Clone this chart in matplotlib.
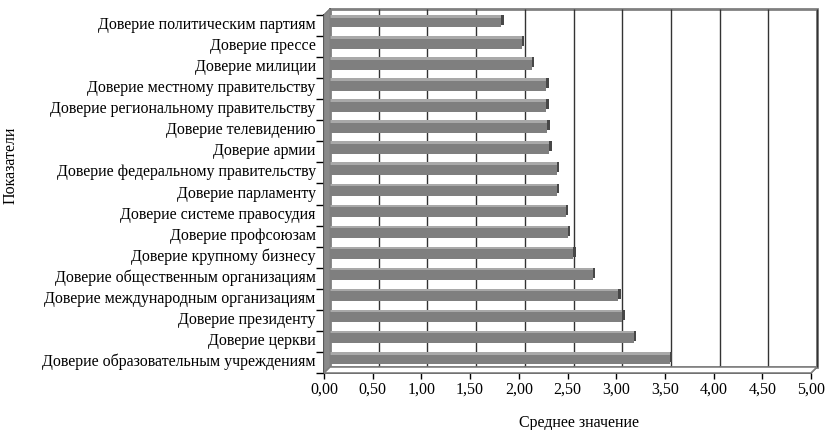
import numpy as np
import matplotlib
matplotlib.use("Agg")
import matplotlib.pyplot as plt
from matplotlib.patches import Polygon
from matplotlib.transforms import ScaledTranslation, IdentityTransform

plt.rcParams["font.family"] = ["Liberation Serif", "DejaVu Serif"]

# data, top to bottom as in the chart
categories = [
    "Доверие политическим партиям",
    "Доверие прессе",
    "Доверие милиции",
    "Доверие местному правительству",
    "Доверие региональному правительству",
    "Доверие телевидению",
    "Доверие армии",
    "Доверие федеральному правительству",
    "Доверие парламенту",
    "Доверие системе правосудия",
    "Доверие профсоюзам",
    "Доверие крупному бизнесу",
    "Доверие общественным организациям",
    "Доверие международным организациям",
    "Доверие президенту",
    "Доверие церкви",
    "Доверие образовательным учреждениям",
]
values = [1.80, 2.01, 2.11, 2.26, 2.26, 2.27, 2.29, 2.37, 2.37, 2.46,
          2.48, 2.54, 2.74, 3.00, 3.04, 3.16, 3.53]
x_ticks = [0, 0.5, 1, 1.5, 2, 2.5, 3, 3.5, 4, 4.5, 5]
x_tick_labels = [f"{t:.2f}".replace(".", ",") for t in x_ticks]

DPI = 100
W, H = 827, 430
FS = 11.5
fig = plt.figure(figsize=(W / DPI, H / DPI), dpi=DPI)
ax = fig.add_axes([324 / W, 57 / H, 487 / W, 358 / H])

y = np.arange(len(categories))
n = len(categories)
ax.set_xlim(0, 5)
ax.set_ylim(n - 0.5, -0.5)
for s in ax.spines.values():
    s.set_visible(False)
ax.patch.set_visible(False)

px = 1.0 / DPI
D = 6  # depth of the 3d box in pixels


def shift(dx, dy):
    return ax.transData + ScaledTranslation(dx * px, dy * px, fig.dpi_scale_trans)


# box: back wall, left wall, floor (display coords)
x0, y0 = ax.transAxes.transform((0, 0))
x1, y1 = ax.transAxes.transform((1, 1))
gray = "#808080"
back = Polygon([(x0 + D, y0 + D), (x1 + D, y0 + D), (x1 + D, y1 + D), (x0 + D, y1 + D)],
               closed=True, facecolor="white", edgecolor=gray, lw=2.0,
               transform=IdentityTransform(), zorder=0)
fig.add_artist(back)
wall = Polygon([(x0, y0), (x0, y1), (x0 + D, y1 + D), (x0 + D, y0 + D)],
               closed=True, facecolor="#8a8a8a", edgecolor=gray, lw=0.8,
               transform=IdentityTransform(), zorder=1)
fig.add_artist(wall)
floor = Polygon([(x0, y0), (x1, y0), (x1 + D, y0 + D), (x0 + D, y0 + D)],
                closed=True, facecolor="white", edgecolor=gray, lw=1.2,
                transform=IdentityTransform(), zorder=1)
fig.add_artist(floor)

# gridlines on back wall
ax.vlines(x_ticks[1:], -0.5, n - 0.5, colors="#333333", lw=1.0,
          transform=shift(D, D), zorder=1, clip_on=False)

# floor diagonals at each tick
for t in x_ticks:
    fx, fy = ax.transData.transform((t, n - 0.5))
    ax.add_line(plt.Line2D([fx, fx + D], [fy, fy + D], color="black", lw=0.8,
                           transform=IdentityTransform(), clip_on=False, zorder=2))
# top-left diagonal of the wall
ax.add_line(plt.Line2D([x0, x0 + D], [y1, y1 + D], color="black", lw=0.8,
                       transform=IdentityTransform(), clip_on=False, zorder=2))

# 3d bars: dark depth, light top, front face
BH = 0.47
bx, by = 2, 3
layers = [((bx + 2.5, by + 2.5), "#474747"),
          ((bx, by + 2.5), "#a9a9a9"),
          ((bx, by), "#7f7f7f")]
for (dx, dy), col in layers:
    bars = ax.barh(y, values, height=BH, left=0, color=col, lw=0, zorder=3)
    for p in bars:
        p.set_transform(shift(dx, dy))
        p.set_clip_on(False)

# front axes lines
ax.add_line(plt.Line2D([0, 0], [-0.5, n - 0.5], color="black", lw=1.2,
                       transform=ax.transData, clip_on=False, zorder=4))
ax.add_line(plt.Line2D([0, 5], [n - 0.5] * 2, color="black", lw=1.2,
                       transform=ax.transData, clip_on=False, zorder=4))

# category ticks at boundaries
ax.set_yticks(np.arange(n + 1) - 0.5, minor=True)
ax.tick_params(axis="y", which="minor", length=6, width=1.0, color="black")
ax.set_yticks(y)
ax.set_yticklabels(categories, fontsize=FS)
ax.tick_params(axis="y", which="major", length=0, pad=6)
for lab in ax.get_yticklabels():
    lab.set_transform(lab.get_transform() + ScaledTranslation(0, 2.5 * px, fig.dpi_scale_trans))

ax.set_xticks(x_ticks)
ax.set_xticklabels(x_tick_labels, fontsize=FS)
ax.tick_params(axis="x", length=4, width=1.0, color="black", pad=2)

ax.set_ylabel("Показатели", fontsize=FS)
ax.yaxis.set_label_coords(-0.628, 0.58)
ax.set_xlabel("Среднее значение", fontsize=FS)
ax.xaxis.set_label_coords(0.523, -0.118)

fig.savefig("out.png", dpi=DPI)
